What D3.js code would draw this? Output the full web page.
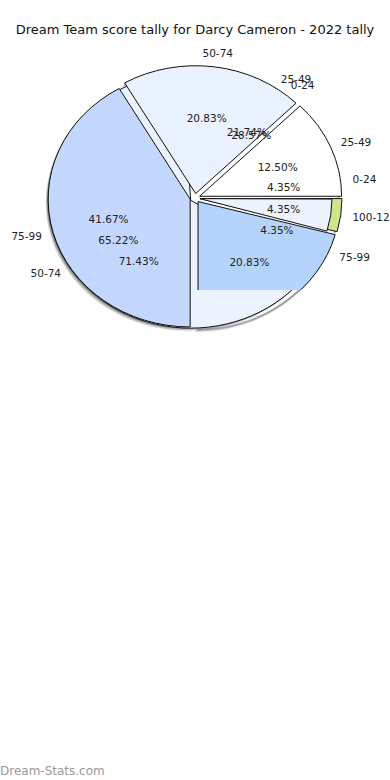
<!DOCTYPE html>
<html>
<head>
<meta charset="utf-8">
<script src="https://cdn.jsdelivr.net/npm/d3@7"></script>
<style>
body { margin: 0; background: #fff; }
svg { display: block; font-family: "DejaVu Sans", sans-serif; }
</style>
</head>
<body>
<svg id="tally-pie" width="390" height="780"></svg>
<script>
// score bands and the three tallies (slices listed clockwise as drawn)
const categories = ["0-24", "25-49", "50-74", "75-99", "100-124"];
const orderA = ["50-74", "25-49", "100-124", "0-24", "75-99"];
const countsA = [5, 3, 1, 5, 10];
const orderB = ["25-49", "0-24", "100-124", "75-99", "50-74"];
const countsB = [5, 1, 1, 1, 15];
const orderC = ["0-24", "50-74"];
const countsC = [2, 5];

// labels that did not show up on the original
const hiddenPctA = ["100-124"];
const hiddenOuterA = ["0-24"];
const hiddenOuterB = ["100-124"];
const hiddenOuterC = ["50-74"];

const sliceColors = {
    "0-24": "#b4d4fe",
    "25-49": "#ffffff",
    "50-74": "#eaf1ff",
    "75-99": "#c4d8ff",
    "100-124": "#cfe68b"
};
const lightFill = "#edf3fe";

const svg = d3.select("#tally-pie"),
    width = +svg.attr("width"),
    height = +svg.attr("height");

const cx = 195, cy = 198, radius = 142, squash = 0.9, margin = 5;
const deg = d => d * Math.PI / 180;

function makePie(order, counts, start) {
    return d3.pie()
        .sort(null)
        .value(d => d.count)
        .startAngle(deg(start))
        .endAngle(deg(start + 360))(order.map((c, i) => ({ cat: c, count: counts[i] })));
}

const piesA = makePie(orderA, countsA, -30);
const piesB = makePie(orderB, countsB, -3.7);
const piesC = makePie(orderC, countsC, -12.4);
const totals = [d3.sum(countsA), d3.sum(countsB), d3.sum(countsC)];

const arc = d3.arc().innerRadius(0).outerRadius(radius);
const arcSmall = d3.arc().innerRadius(0).outerRadius(radius * 0.93);
const rim = d3.arc().innerRadius(radius - 2).outerRadius(radius);
const mid = d => (d.startAngle + d.endAngle) / 2;
const shift = d => `translate(${margin * Math.sin(mid(d))},${-margin * Math.cos(mid(d))})`;

// title
svg.append("text")
    .attr("x", width / 2)
    .attr("y", 34)
    .attr("text-anchor", "middle")
    .style("font-size", "13px")
    .style("fill", "#111")
    .text("Dream Team score tally for Darcy Cameron - 2022 tally");

const defs = svg.append("defs");
defs.append("clipPath")
    .attr("id", "clip-low")
    .append("rect")
    .attr("x", -radius - 20)
    .attr("y", -radius - 20)
    .attr("width", 2 * radius + 40)
    .attr("height", radius + 20 + radius * 0.72);

const pieG = svg.append("g")
    .attr("transform", `translate(${cx},${cy}) scale(1,${squash})`);

// shadows along the rim
const underB = piesB.filter(d => d.data.cat === "50-74");
const overB = piesB.filter(d => d.data.cat === "100-124");
const shadowG = pieG.append("g");
[1, 2, 3].forEach(k => {
    shadowG.selectAll(null)
        .data(piesA.concat(underB))
        .enter()
        .append("path")
        .attr("d", rim)
        .attr("transform", d => {
            const m = mid(d);
            return `translate(${margin * Math.sin(m) - 0.9 * k},${-margin * Math.cos(m) + 1.2 * k})`;
        })
        .style("fill", "#000")
        .style("opacity", 0.32 - k * 0.08);
});

// second tally underneath
pieG.append("g")
    .selectAll("path")
    .data(underB)
    .enter()
    .append("path")
    .attr("d", arc)
    .attr("transform", shift)
    .style("fill", lightFill)
    .style("stroke", "#111")
    .style("stroke-width", 1)
    .attr("vector-effect", "non-scaling-stroke");

// first tally
const sliceG = pieG.append("g")
    .selectAll("g")
    .data(piesA)
    .enter()
    .append("g")
    .attr("clip-path", d => d.data.cat === "0-24" ? "url(#clip-low)" : null);

sliceG.append("path")
    .attr("d", arc)
    .attr("transform", shift)
    .style("fill", d => sliceColors[d.data.cat])
    .style("stroke", "#111")
    .style("stroke-width", 1)
    .attr("vector-effect", "non-scaling-stroke");

// second tally small slice on top
pieG.append("g")
    .selectAll("path")
    .data(overB)
    .enter()
    .append("path")
    .attr("d", arcSmall)
    .attr("transform", shift)
    .style("fill", lightFill)
    .style("stroke", "#111")
    .style("stroke-width", 1)
    .attr("vector-effect", "non-scaling-stroke");

// labels
const labelG = svg.append("g")
    .style("font-size", "10.5px")
    .style("fill", "#222");

function pctLabels(pies, total, hidden) {
    labelG.selectAll(null)
        .data(pies.filter(d => hidden.indexOf(d.data.cat) < 0))
        .enter()
        .append("text")
        .attr("x", d => cx + 0.63 * radius * Math.sin(mid(d)))
        .attr("y", d => cy - 0.63 * radius * squash * Math.cos(mid(d)))
        .attr("text-anchor", "middle")
        .attr("dominant-baseline", "central")
        .text(d => (d.data.count / total * 100).toFixed(2) + "%");
}

function outerLabels(pies, hidden) {
    labelG.selectAll(null)
        .data(pies.filter(d => hidden.indexOf(d.data.cat) < 0))
        .enter()
        .append("text")
        .attr("text-anchor", "middle")
        .attr("dominant-baseline", "central")
        .text(d => d.data.cat)
        .each(function (d) {
            const w = this.getComputedTextLength();
            const s = Math.sin(mid(d)), c = Math.cos(mid(d));
            d3.select(this)
                .attr("x", cx + (radius + 17) * s + w / 2 * s)
                .attr("y", cy - (radius * squash + 12) * c - 6 * c);
        });
}

pctLabels(piesA, totals[0], hiddenPctA);
pctLabels(piesB, totals[1], []);
pctLabels(piesC, totals[2], []);
outerLabels(piesA, hiddenOuterA);
outerLabels(piesB, hiddenOuterB);
outerLabels(piesC, hiddenOuterC);

// footer
svg.append("text")
    .attr("x", 0)
    .attr("y", height - 5)
    .style("font-size", "12px")
    .style("fill", "#999")
    .text("Dream-Stats.com");
</script>
</body>
</html>
